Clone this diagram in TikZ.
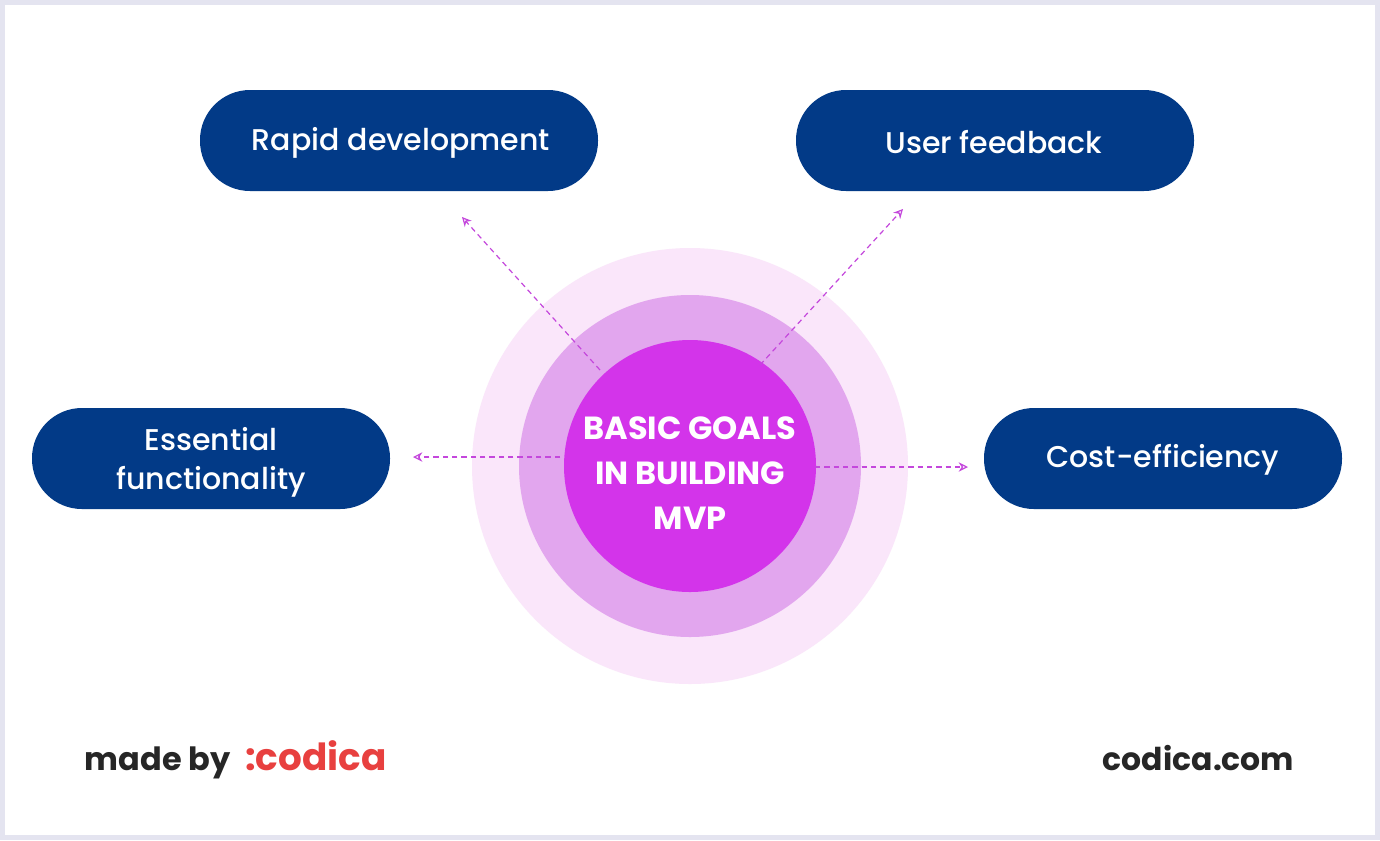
\documentclass[tikz,border=0pt]{standalone}
\usepackage{fontspec}
\setmainfont{Poppins}
\newfontfamily\pmed{Poppins Medium}
\usetikzlibrary{arrows.meta}
\definecolor{navy}{HTML}{023A87}
\definecolor{mag}{HTML}{D334EA}
\definecolor{ring2}{HTML}{E2A6EE}
\definecolor{ring3}{HTML}{FAE6FA}
\definecolor{frame}{HTML}{E4E4F0}
\definecolor{arr}{HTML}{C447DC}
\definecolor{codred}{HTML}{E8403F}
\begin{document}
\begin{tikzpicture}[x=0.75pt,y=-0.75pt,
  pill/.style={draw=none,fill=navy,rounded corners=37.5pt},
  ptxt/.style={text=white,font=\pmed\fontsize{22.5}{29}\selectfont,align=center},
  conn/.style={arr,dashed,dash pattern=on 4pt off 3pt,line width=0.9pt,-{Stealth[open,length=7pt,width=7pt]}}]
\fill[frame] (0,0) rectangle (1380,840);
\fill[white] (5,5) rectangle (1375,835);
\fill[ring3] (690,466) circle (218);
\fill[ring2] (690,466) circle (171);
\fill[mag] (690,466) circle (126);
\node[text=white,font=\bfseries\fontsize{24}{34}\selectfont,align=center] (c) at (690,473) {BASIC GOALS\\IN BUILDING\\MVP};
\path[pill] (200,90) rectangle (598,191); \node[ptxt] (r) at (401,143) {Rapid development};
\path[pill] (796,90) rectangle (1194,191); \node[ptxt] (u) at (994,142) {User feedback};
\path[pill] (32,408) rectangle (390,509); \node[ptxt] (e) at (211,462) {Essential\\functionality};
\path[pill] (984,408) rectangle (1342,509); \node[ptxt] (k) at (1163,460) {Cost-efficiency};
\coordinate (a1) at (600,370); \coordinate (b1) at (462,217);
\coordinate (a2) at (760,365); \coordinate (b2) at (903,209);
\coordinate (a3) at (560,457); \coordinate (b3) at (413,457);
\coordinate (a4) at (815,467); \coordinate (b4) at (968,467);
\draw[conn] (a1) -- (b1);
\draw[conn] (a2) -- (b2);
\draw[conn] (a3) -- (b3);
\draw[conn] (a4) -- (b4);
\node[anchor=base west,font=\bfseries\fontsize{24}{28}\selectfont,text=black!85] (m) at (80,770) {made by\hspace{11pt}\textcolor{codred}{\fontsize{28}{30}\selectfont:codica}};
\node[anchor=base east,font=\bfseries\fontsize{23.6}{28}\selectfont,text=black!85] (w) at (1299,770) {codica.com};
\end{tikzpicture}
\end{document}
